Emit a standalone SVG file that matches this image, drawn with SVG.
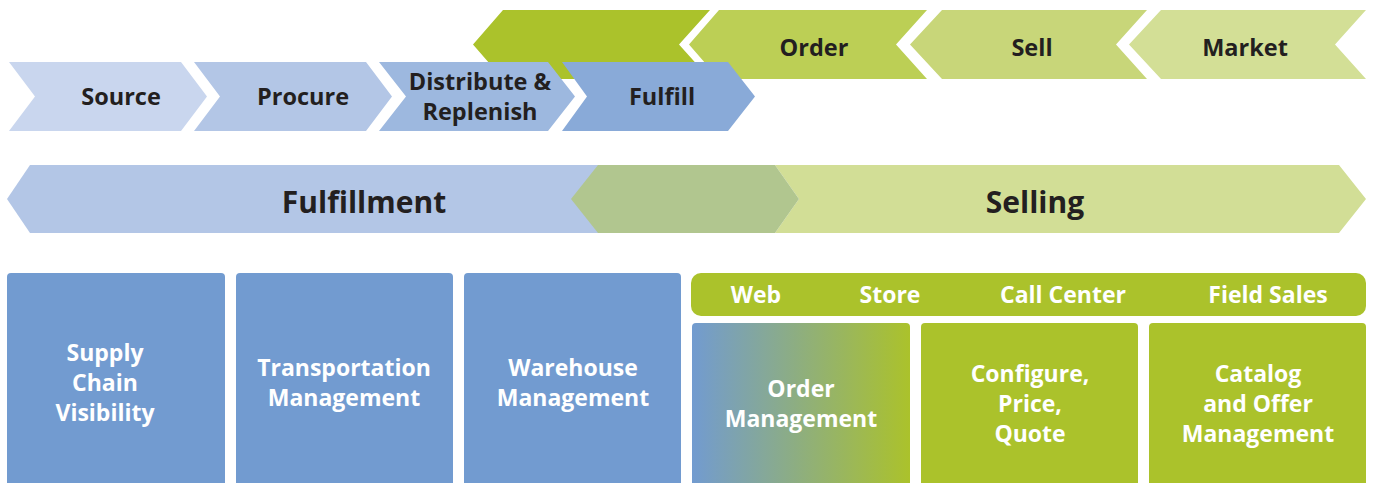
<svg xmlns="http://www.w3.org/2000/svg" width="1373" height="483" viewBox="0 0 1373 483">
<style>
  .lbl{font-family:"Open Sans","Liberation Sans",sans-serif;font-weight:700;fill:#231f20;text-anchor:middle;font-size:23.5px}
  .big{font-size:30px}
  .wt{font-family:"Open Sans","Liberation Sans",sans-serif;font-weight:700;fill:#ffffff;text-anchor:middle;font-size:23px}
  .box{fill:#729bd0}
  .gbox{fill:#abc22b}
</style>
<defs>
  <linearGradient id="omgrad" x1="0" y1="0" x2="1" y2="0">
    <stop offset="0" stop-color="#729bd0"/>
    <stop offset="1" stop-color="#abc22b"/>
  </linearGradient>
</defs>
<rect width="1373" height="483" fill="#ffffff"/>

<!-- green selling chevrons (pointing left) -->
<g id="sell-lead"><polygon points="503,10 710,10 679,44.5 710,79 503,79 473,44.5" fill="#abc22b"/></g>
<g id="order"><polygon points="719,10 927,10 896,44.5 927,79 719,79 689,44.5" fill="#bccf55"/><text class="lbl" x="814" y="56">Order</text></g>
<g id="sell"><polygon points="942,10 1147,10 1116,44.5 1147,79 942,79 910,44.5" fill="#c8d679"/><text class="lbl" x="1032" y="56">Sell</text></g>
<g id="market"><polygon points="1161,10 1366,10 1335,44.5 1366,79 1161,79 1129,44.5" fill="#d3df96"/><text class="lbl" x="1245" y="56">Market</text></g>

<!-- blue fulfillment chevrons (pointing right) -->
<g id="source"><polygon points="9,62 181,62 207,96.5 181,131 9,131 35,96.5" fill="#c9d6ee"/><text class="lbl" x="121" y="105">Source</text></g>
<g id="procure"><polygon points="194,62 366,62 392,96.5 366,131 194,131 220,96.5" fill="#b3c6e6"/><text class="lbl" x="303" y="105">Procure</text></g>
<g id="distribute"><polygon points="379,62 548,62 575,96.5 548,131 379,131 406,96.5" fill="#9db8df"/><text class="lbl" x="480" y="90">Distribute &amp;</text><text class="lbl" x="480" y="120">Replenish</text></g>
<g id="fulfill"><polygon points="562,62 728,62 755,96.5 728,131 562,131 587,96.5" fill="#89aad8"/><text class="lbl" x="662" y="105">Fulfill</text></g>

<!-- bands -->
<g id="fulfillment-band"><polygon points="30,165 600,165 600,233 30,233 7,199" fill="#b3c6e6"/><text class="lbl big" x="364" y="213">Fulfillment</text></g>
<g id="selling-band"><polygon points="775,165 1339,165 1366,199 1339,233 775,233 799,199" fill="#d2de96"/><text class="lbl big" x="1035" y="213">Selling</text></g>
<g id="overlap-band"><polygon points="598,165 775,165 799,199 775,233 598,233 571,199" fill="#b1c68f"/></g>

<!-- fulfillment boxes -->
<g id="scv"><rect class="box" x="7" y="273" width="218" height="220" rx="4"/><text class="wt" x="105" y="361">Supply</text><text class="wt" x="105" y="391">Chain</text><text class="wt" x="105" y="421">Visibility</text></g>
<g id="tm"><rect class="box" x="236" y="273" width="217" height="220" rx="4"/><text class="wt" x="344" y="376">Transportation</text><text class="wt" x="344" y="406">Management</text></g>
<g id="wm"><rect class="box" x="464" y="273" width="217" height="220" rx="4"/><text class="wt" x="573" y="376">Warehouse</text><text class="wt" x="573" y="406">Management</text></g>

<!-- channels -->
<g id="channels"><rect class="gbox" x="691" y="273" width="675" height="43" rx="10"/>
  <text class="wt" x="756" y="303">Web</text><text class="wt" x="890" y="303">Store</text><text class="wt" x="1063" y="303">Call Center</text><text class="wt" x="1268" y="303">Field Sales</text></g>

<!-- selling boxes -->
<g id="om"><rect x="692" y="323" width="218" height="170" rx="4" fill="url(#omgrad)"/><text class="wt" x="801" y="397">Order</text><text class="wt" x="801" y="427">Management</text></g>
<g id="cpq"><rect class="gbox" x="921" y="323" width="217" height="170" rx="4"/><text class="wt" x="1030" y="382">Configure,</text><text class="wt" x="1030" y="412">Price,</text><text class="wt" x="1030" y="442">Quote</text></g>
<g id="catalog"><rect class="gbox" x="1149" y="323" width="217" height="170" rx="4"/><text class="wt" x="1258" y="382">Catalog</text><text class="wt" x="1258" y="412">and Offer</text><text class="wt" x="1258" y="442">Management</text></g>

<g id="connectors"/>
</svg>
